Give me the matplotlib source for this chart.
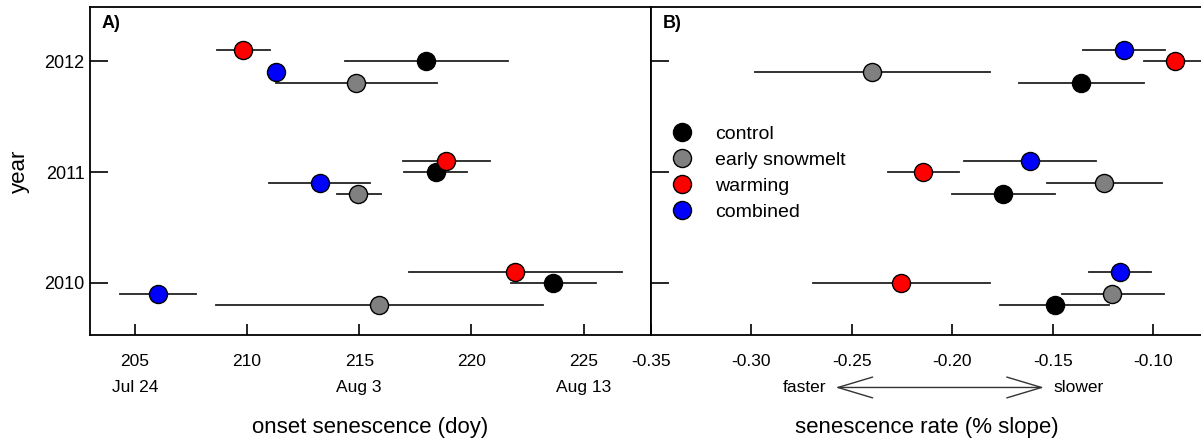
import matplotlib
matplotlib.use('Agg')
import matplotlib.pyplot as plt
from matplotlib.lines import Line2D

plt.rcParams['font.family'] = ['Liberation Sans', 'DejaVu Sans']

years = [2010, 2011, 2012]
treatments = ['control', 'early snowmelt', 'warming', 'combined']
colors = ['black', '#808080', '#ff0000', '#0000ff']

# onset of senescence (day of year), rows = treatments, cols = years
onset_mean = [[223.65, 218.40, 217.97],
              [215.90, 214.96, 214.85],
              [221.94, 218.87, 209.83],
              [206.03, 213.23, 211.28]]
onset_lo = [[221.75, 217.01, 214.38],
            [208.63, 214.02, 211.28],
            [217.20, 216.97, 208.68],
            [204.36, 211.00, 211.00]]
onset_hi = [[225.56, 219.79, 221.62],
            [223.18, 215.96, 218.46],
            [226.71, 220.81, 211.03],
            [207.71, 215.47, 211.60]]

# senescence rate (% slope)
rate_mean = [[-0.1490, -0.1747, -0.1358],
             [-0.1203, -0.1243, -0.2401],
             [-0.2255, -0.2145, -0.0890],
             [-0.1167, -0.1614, -0.1146]]
rate_lo = [[-0.1760, -0.2003, -0.1670],
           [-0.1452, -0.1529, -0.2984],
           [-0.2692, -0.2320, -0.1047],
           [-0.1319, -0.1942, -0.1349]]
rate_hi = [[-0.1218, -0.1488, -0.1047],
           [-0.0946, -0.0955, -0.1810],
           [-0.1812, -0.1967, -0.0700],
           [-0.1013, -0.1284, -0.0941]]

onset_ticks = [205, 210, 215, 220, 225]
date_ticks = [205, 215, 225]
date_labels = ['Jul 24', 'Aug 3', 'Aug 13']
rate_ticks = [-0.35, -0.30, -0.25, -0.20, -0.15, -0.10]

# vertical dodge of each treatment within a year
onset_offset = [0.0, -0.2, 0.1, -0.1]
rate_offset = [-0.2, -0.1, 0.0, 0.1]

fig = plt.figure(figsize=(12.01, 4.44), dpi=100)
axA = fig.add_axes([0.0749, 0.2455, 0.4671, 0.7387])
axB = fig.add_axes([0.5420, 0.2455, 0.4600, 0.7387])


def draw(ax, mean, lo, hi, offset):
    for i in range(len(treatments)):
        for j, yr in enumerate(years):
            y = yr + offset[i]
            ax.plot([lo[i][j], hi[i][j]], [y, y], color='#222222', lw=1.3, zorder=2)
            ax.plot(mean[i][j], y, 'o', ms=13, mfc=colors[i], mec='black',
                    mew=1.0, zorder=3)


draw(axA, onset_mean, onset_lo, onset_hi, onset_offset)
draw(axB, rate_mean, rate_lo, rate_hi, rate_offset)

for ax in (axA, axB):
    ax.set_ylim(2009.53, 2012.49)
    ax.set_yticks(years)
    ax.tick_params(axis='x', direction='in', length=8, width=1.2, pad=14, labelsize=12.5)
    ax.tick_params(axis='y', direction='in', length=13, width=1.2, pad=4, labelsize=13)
    for s in ax.spines.values():
        s.set_linewidth(1.3)

axA.set_xlim(203, 228)
axA.set_xticks(onset_ticks)
axA.set_yticklabels([str(y) for y in years])
axA.set_ylabel('year', fontsize=16, labelpad=10)
axA.set_xlabel('onset senescence (doy)', fontsize=16, labelpad=34)
for d, lab in zip(date_ticks, date_labels):
    axA.text(d, -0.16, lab, transform=axA.get_xaxis_transform(),
             ha='center', va='center', fontsize=12.5)
axA.text(0.021, 0.975, 'A)', transform=axA.transAxes, fontsize=13,
         fontweight='bold', ha='left', va='top')

axB.set_xlim(-0.35, -0.075)
axB.set_xticks(rate_ticks)
axB.set_xticklabels(['%.2f' % t for t in rate_ticks])
axB.set_yticklabels([])
axB.spines['right'].set_visible(False)
axB.set_xlabel('senescence rate (% slope)', fontsize=16, labelpad=34)
axB.text(0.021, 0.975, 'B)', transform=axB.transAxes, fontsize=13,
         fontweight='bold', ha='left', va='top')

# faster / slower arrow under the rate axis
axB.annotate('', xy=(-0.2595, -0.16), xytext=(-0.153, -0.16),
             xycoords=('data', 'axes fraction'), textcoords=('data', 'axes fraction'),
             arrowprops=dict(arrowstyle='<->, head_length=2.5, head_width=0.75',
                             mutation_scale=10, lw=1.0, color='#333333'),
             annotation_clip=False)
axB.text(-0.2625, -0.16, 'faster', transform=axB.get_xaxis_transform(),
         ha='right', va='center', fontsize=12.5)
axB.text(-0.1495, -0.16, 'slower', transform=axB.get_xaxis_transform(),
         ha='left', va='center', fontsize=12.5)

handles = [Line2D([], [], ls='none', marker='o', ms=13, mfc=c, mec='black', mew=1.0)
           for c in colors]
axB.legend(handles, treatments, loc='upper left', bbox_to_anchor=(0.01, 0.68),
           frameon=False, fontsize=14, handletextpad=1.1, labelspacing=0.42,
           handlelength=1.2, borderpad=0.2)

fig.savefig('out.png', dpi=100)
